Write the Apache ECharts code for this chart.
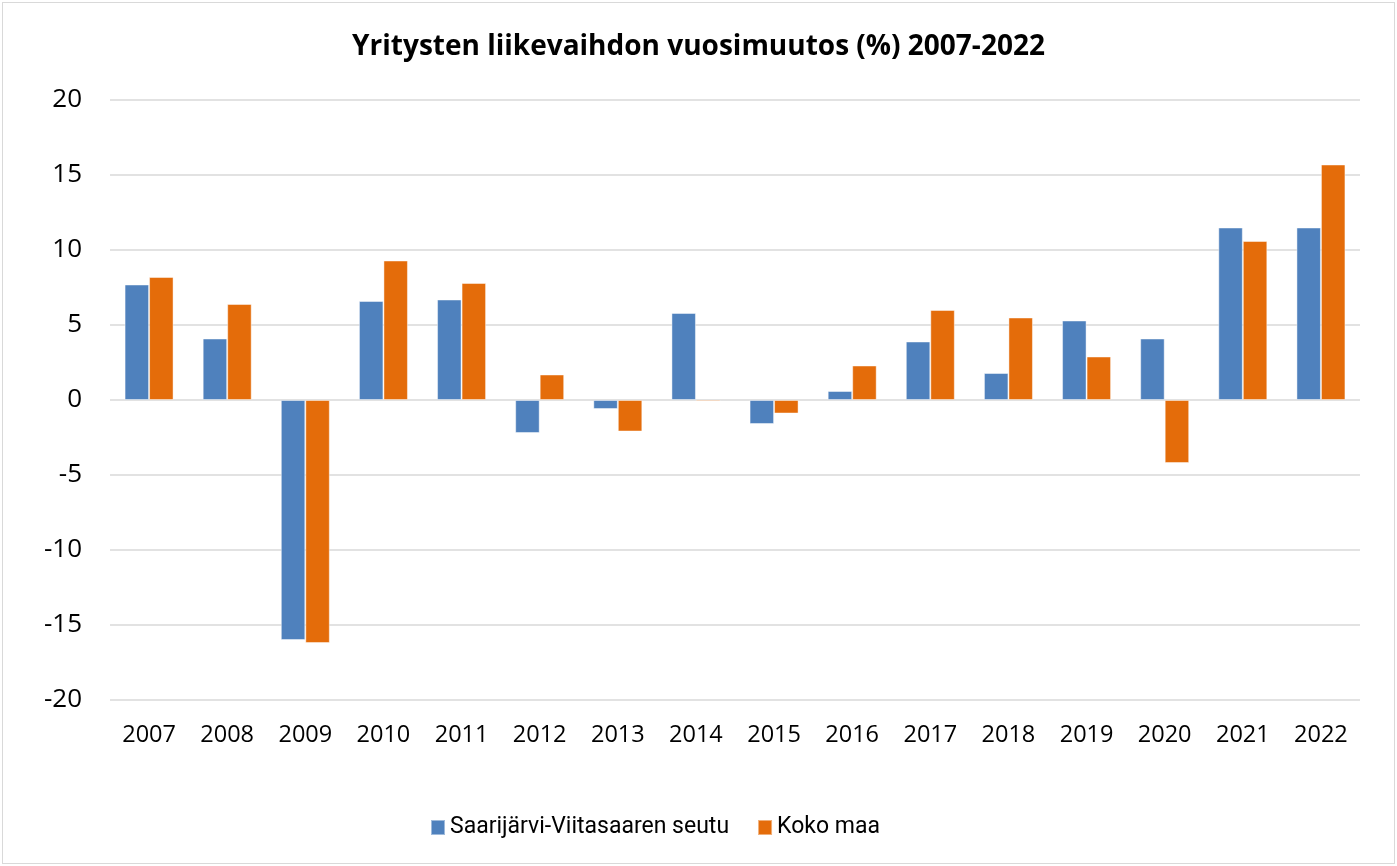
<!DOCTYPE html>
<html>
<head>
<meta charset="utf-8">
<script src="https://cdn.jsdelivr.net/npm/echarts@6/dist/echarts.min.js"></script>
<style>
html,body{margin:0;padding:0;background:#fff;}
#frame{position:absolute;left:2px;top:2px;width:1391px;height:860px;border:1px solid #d9d9d9;}
#c{position:absolute;left:0;top:0;width:1397px;height:866px;}
</style>
</head>
<body>
<div id="frame"></div>
<div id="c"></div>
<script>
const categories = ['2007','2008','2009','2010','2011','2012','2013','2014','2015','2016','2017','2018','2019','2020','2021','2022'];
const seriesNames = ['Saarijärvi-Viitasaaren seutu','Koko maa'];
const regionValues = [7.7, 4.1, -16.0, 6.6, 6.7, -2.2, -0.6, 5.8, -1.6, 0.6, 3.9, 1.8, 5.3, 4.1, 11.5, 11.5];
const nationalValues = [8.2, 6.4, -16.2, 9.3, 7.8, 1.7, -2.1, -0.1, -0.9, 2.3, 6.0, 5.5, 2.9, -4.2, 10.6, 15.7];
const titleText = 'Yritysten liikevaihdon vuosimuutos (%) 2007-2022';

const FONT = 'Open Sans';
const chart = echarts.init(document.getElementById('c'), null, {renderer:'canvas'});
chart.setOption({
  animation:false,
  backgroundColor:'transparent',
  title:{text:titleText,left:'center',top:28,padding:[5,0,5,10],
    textStyle:{fontFamily:FONT,fontWeight:'bold',fontSize:28,color:'#000'}},
  grid:{left:110,right:37,top:100,bottom:166,containLabel:false},
  legend:{bottom:22,left:425,itemWidth:14,itemHeight:15,itemGap:28,icon:'rect',
    textStyle:{fontFamily:'Roboto',fontSize:23,color:'#000'},data:seriesNames},
  xAxis:{type:'category',data:categories,
    axisLine:{show:false},axisTick:{show:false},
    axisLabel:{fontFamily:FONT,fontSize:23.5,color:'#000',margin:23}},
  yAxis:{type:'value',min:-20,max:20,interval:5,
    axisLine:{show:false},axisTick:{show:false},
    axisLabel:{fontFamily:FONT,fontSize:26,color:'#000',margin:28},
    splitLine:{lineStyle:{color:'#d9d9d9',width:1.5}}},
  series:[
    {name:seriesNames[0],type:'bar',data:regionValues,barWidth:24.5,barGap:'0%',
      itemStyle:{color:'#4f81bd',borderColor:'rgba(255,255,255,0.45)',borderWidth:1}},
    {name:seriesNames[1],type:'bar',data:nationalValues,barWidth:24.5,barGap:'0%',
      itemStyle:{color:'#e46c0a',borderColor:'rgba(255,255,255,0.45)',borderWidth:1}}
  ]
});
</script>
</body>
</html>
